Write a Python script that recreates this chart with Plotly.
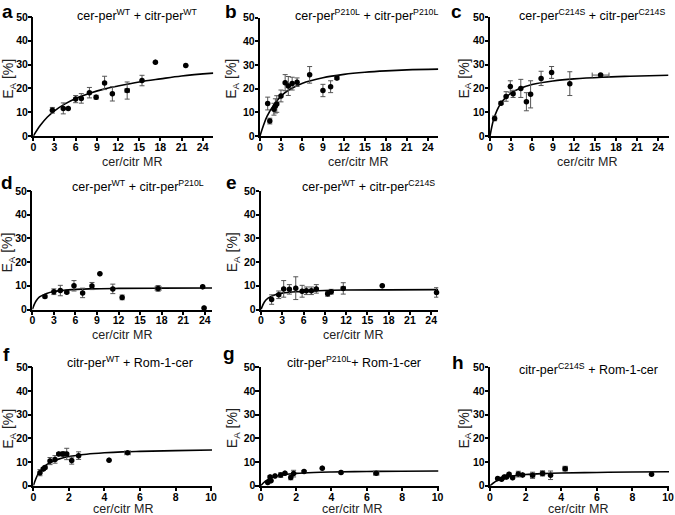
import plotly.graph_objects as go

W, H = 675, 515

# ---------------- data ----------------
# panel a: cer-per WT + citr-per WT
a_x = [2.7, 4.25, 4.95, 6.0, 6.8, 7.95, 8.9, 10.1, 11.2, 13.3, 15.4, 17.3, 21.6]
a_y = [10.8, 11.6, 11.6, 15.5, 15.8, 18.2, 16.3, 22.3, 17.7, 19.1, 23.3, 31.0, 29.6]
a_err = [1.2, 2.3, None, 1.5, 2.0, 2.2, 0.8, 2.8, 3.0, 3.6, 2.2, None, None]
a_xerr = [None, None, None, None, None, None, None, None, None, 0.3, None, None, None]
a_fit_x = [0, 1, 2, 3, 4.5, 6, 8, 10, 12, 15, 18, 21, 25.5]
a_fit_y = [0, 4.5, 8.0, 10.6, 13.5, 15.8, 18.0, 19.7, 21.0, 22.7, 24.0, 25.2, 26.4]

# panel b: P210L + P210L
b_x = [1.1, 1.4, 2.0, 2.2, 2.4, 3.0, 3.6, 4.05, 4.6, 5.3, 7.1, 9.0, 10.1, 11.0]
b_y = [13.7, 6.3, 11.3, 12.7, 13.5, 16.9, 22.5, 21.1, 22.1, 22.7, 25.8, 19.2, 20.8, 24.5]
b_err = [2.7, 1.2, 2.5, 3.0, 3.5, 2.5, 3.4, 4.0, 2.7, 1.8, 3.5, 2.6, 2.5, 0.7]
b_xerr = [None] * 14
b_fit_x = [0, 0.5, 1, 2, 3, 4, 6, 9, 12, 15, 18, 21, 25.5]
b_fit_y = [0, 4.5, 8.3, 13.2, 16.8, 19.2, 22.2, 24.6, 26.0, 26.9, 27.5, 27.9, 28.2]

# panel c: C214S + C214S
c_x = [0.66, 1.57, 2.3, 2.9, 3.3, 4.4, 5.2, 5.8, 7.3, 8.8, 11.4, 15.8]
c_y = [7.4, 13.8, 16.6, 20.8, 17.7, 20.0, 14.4, 17.5, 24.2, 26.7, 22.0, 25.6]
c_err = [1.0, 0.6, 2.0, 2.4, 1.5, 3.8, 3.8, 5.7, 3.0, 2.5, 5.0, None]
c_xerr = [None] * 11 + [1.2]
c_fit_x = [0, 0.5, 1, 1.5, 2, 3, 4, 6, 9, 12, 16, 20, 25.5]
c_fit_y = [0, 6.8, 10.8, 13.5, 15.4, 18.0, 19.6, 21.6, 23.1, 24.0, 24.7, 25.1, 25.5]

# panel d: cer-per WT + citr-per P210L
d_x = [1.76, 3.0, 3.9, 4.8, 5.8, 7.0, 8.3, 9.4, 11.2, 12.5, 17.5, 23.7, 23.9]
d_y = [5.5, 7.5, 8.0, 7.3, 10.0, 7.0, 9.9, 15.1, 8.7, 5.1, 8.9, 9.6, 0.6]
d_err = [0.6, 1.2, 2.2, 0.5, 2.2, 2.0, 1.5, None, 2.0, 1.0, 1.2, None, None]
d_xerr = [None] * 10 + [0.4, None, None]
d_fit_x = [0, 0.5, 1, 2, 3, 5, 8, 12, 18, 25]
d_fit_y = [0, 3.5, 5.3, 6.8, 7.6, 8.3, 8.7, 8.9, 9.0, 9.1]

# panel e: cer-per WT + citr-per C214S
e_x = [1.5, 2.5, 3.2, 4.0, 4.9, 5.8, 6.4, 7.1, 7.8, 9.4, 9.9, 11.6, 17.1, 24.75]
e_y = [4.2, 6.2, 8.7, 8.5, 9.0, 7.7, 7.9, 7.9, 8.7, 6.6, 7.5, 8.9, 10.0, 7.2]
e_err = [2.0, 1.6, 3.5, 2.0, 4.8, 2.5, 1.6, 1.6, 1.8, 1.0, 1.0, 2.4, None, 2.0]
e_xerr = [None] * 11 + [0.3, None, None]
e_fit_x = [0, 0.5, 1, 2, 3, 5, 8, 12, 18, 25]
e_fit_y = [0, 3.3, 4.8, 6.2, 6.9, 7.5, 7.9, 8.2, 8.3, 8.4]

# panel f: citr-per WT + Rom-1-cer
f_x = [0.375, 0.56, 0.66, 0.94, 1.22, 1.43, 1.67, 1.88, 2.16, 2.55, 4.26, 5.3]
f_y = [5.5, 7.0, 7.7, 10.4, 11.1, 13.4, 13.4, 13.4, 10.6, 12.7, 10.8, 13.9]
f_err = [1.3, 0.6, 0.6, 1.5, 1.6, 0.5, 1.0, 2.4, 1.5, 1.6, None, 0.5]
f_xerr = [None] * 11 + [0.15]
f_fit_x = [0, 0.25, 0.5, 1, 1.5, 2, 3, 4, 5, 6, 8, 10.05]
f_fit_y = [0, 4.7, 7.3, 10.0, 11.4, 12.3, 13.3, 13.9, 14.3, 14.5, 14.8, 15.1]

# panel g: citr-per P210L + Rom-1-cer
g_x = [0.4, 0.53, 0.58, 0.81, 1.13, 1.37, 1.7, 1.86, 2.45, 3.48, 4.54, 6.53]
g_y = [1.3, 3.7, 2.1, 4.1, 4.5, 5.3, 3.5, 5.1, 6.0, 7.4, 5.6, 5.3]
g_err = [None, 0.5, None, None, 1.0, None, 1.0, 1.4, 0.4, None, 0.5, 0.8]
g_xerr = [None] * 11 + [0.15]
g_fit_x = [0, 0.25, 0.5, 1, 1.5, 2, 3, 4, 6, 8, 10.05]
g_fit_y = [0, 1.8, 3.0, 4.2, 4.8, 5.2, 5.6, 5.8, 6.0, 6.1, 6.2]

# panel h: citr-per C214S + Rom-1-cer
h_x = [0.43, 0.65, 0.8, 0.93, 1.07, 1.27, 1.59, 1.83, 2.39, 2.95, 3.4, 4.22, 9.07]
h_y = [3.0, 2.7, 3.7, 3.7, 4.8, 3.4, 4.9, 4.5, 4.4, 5.2, 4.4, 7.2, 4.8]
h_err = [None, None, None, None, 0.5, None, 1.2, None, 1.3, 1.1, 1.8, 1.0, None]
h_xerr = [None] * 8 + [0.12, 0.12, None, 0.12, None]
h_fit_x = [0, 0.5, 1, 1.5, 2, 3, 4, 6, 8, 10.05]
h_fit_y = [0, 2.6, 3.7, 4.3, 4.7, 5.1, 5.35, 5.6, 5.8, 5.9]

x_ticks_long = [0, 3, 6, 9, 12, 15, 18, 21, 24]
x_ticks_short = [0, 2, 4, 6, 8, 10]
y_ticks = [0, 10, 20, 30, 40, 50]

panel_letters = ["a", "b", "c", "d", "e", "f", "g", "h"]
panel_titles = [
    "cer-per<sup>WT</sup> + citr-per<sup>WT</sup>",
    "cer-per<sup>P210L</sup> + citr-per<sup>P210L</sup>",
    "cer-per<sup>C214S</sup> + citr-per<sup>C214S</sup>",
    "cer-per<sup>WT</sup> + citr-per<sup>P210L</sup>",
    "cer-per<sup>WT</sup> + citr-per<sup>C214S</sup>",
    "citr-per<sup>WT</sup> + Rom-1-cer",
    "citr-per<sup>P210L</sup>+ Rom-1-cer",
    "citr-per<sup>C214S</sup> + Rom-1-cer",
]
x_title = "cer/citr MR"
y_title = "E<sub>A</sub> [%]"

data = [
    (a_x, a_y, a_err, a_xerr, a_fit_x, a_fit_y),
    (b_x, b_y, b_err, b_xerr, b_fit_x, b_fit_y),
    (c_x, c_y, c_err, c_xerr, c_fit_x, c_fit_y),
    (d_x, d_y, d_err, d_xerr, d_fit_x, d_fit_y),
    (e_x, e_y, e_err, e_xerr, e_fit_x, e_fit_y),
    (f_x, f_y, f_err, f_xerr, f_fit_x, f_fit_y),
    (g_x, g_y, g_err, g_xerr, g_fit_x, g_fit_y),
    (h_x, h_y, h_err, h_xerr, h_fit_x, h_fit_y),
]

# ---------------- layout geometry (pixels) ----------------
# (x_left, x_right, y_top, y_bottom, x_max)
geom = [
    (33.3, 213.3, 17, 136, 25.5),
    (260, 438.3, 17.5, 136, 25.5),
    (490, 668.5, 17, 136, 25.5),
    (32.3, 212, 191, 309.5, 25),
    (261, 438.3, 191, 309.5, 25),
    (33.3, 212, 367.3, 485.7, 10.05),
    (260.7, 438.5, 367.3, 485.7, 10.05),
    (490, 669, 367.3, 485.7, 10.05),
]
title_pos = [(137, 15), (366, 15), (592, 15), (138, 186), (368, 186), (130, 362), (354, 362), (588, 369)]
letter_pos = [(7, 12), (231, 12), (457, 12), (7, 182), (231, 182), (6, 354), (229, 353), (458, 362)]
xtitle_pos = [(132, 162), (358, 162), (587, 162), (122, 335), (353, 335), (123, 509), (352, 509), (578, 509)]
ytitle_off = [25, 28, 26, 24, 28, 25, 28, 26]

FONT = "Liberation Sans, Arial, sans-serif"

def px_x(px):
    return px / W

def px_y(py):
    return 1 - py / H

fig = go.Figure()
annotations = []
layout = {}

for i, ((x, y, ye, xe, fx, fy), (xl, xr, yt, yb, xmax)) in enumerate(zip(data, geom)):
    n = i + 1
    xa = "x" if n == 1 else f"x{n}"
    ya = "y" if n == 1 else f"y{n}"
    fig.add_trace(go.Scatter(
        x=fx, y=fy, mode="lines", line=dict(color="black", width=1.6, shape="spline", smoothing=1.0),
        xaxis=xa, yaxis=ya, showlegend=False, hoverinfo="skip", cliponaxis=False))
    fig.add_trace(go.Scatter(
        x=x, y=y, mode="markers",
        marker=dict(color="black", size=5.5),
        error_y=dict(type="data", array=ye, color="#555555", thickness=1, width=2.5, visible=True),
        error_x=dict(type="data", array=xe, color="#555555", thickness=1, width=2.5, visible=True),
        xaxis=xa, yaxis=ya, showlegend=False, cliponaxis=False))

    ticks = x_ticks_long if xmax > 11 else x_ticks_short
    common = dict(showline=True, linecolor="black", linewidth=1.5, ticks="outside", ticklen=3.5,
                  tickwidth=1.5, tickcolor="black", showgrid=False, zeroline=False, automargin=False,
                  tickfont=dict(family=FONT, size=10.5, color="black", weight="bold"))
    layout["xaxis" if n == 1 else f"xaxis{n}"] = dict(
        domain=[px_x(xl), px_x(xr)], range=[0, xmax], tickmode="array", tickvals=ticks,
        anchor=ya, ticklabelstandoff=-3, **common)
    layout["yaxis" if n == 1 else f"yaxis{n}"] = dict(
        domain=[px_y(yb), px_y(yt)], range=[0, 50], tickmode="array", tickvals=y_ticks,
        anchor=xa, ticklabelstandoff=-2, **common)

    tx, ty = title_pos[i]
    annotations.append(dict(text=panel_titles[i], x=px_x(tx), y=px_y(ty), xref="paper", yref="paper",
                            showarrow=False, xanchor="center", yanchor="middle",
                            font=dict(family=FONT, size=12.5, color="black")))
    lx, ly = letter_pos[i]
    annotations.append(dict(text="<b>%s</b>" % panel_letters[i], x=px_x(lx), y=px_y(ly), xref="paper",
                            yref="paper", showarrow=False, xanchor="center", yanchor="middle",
                            font=dict(family=FONT, size=19, color="black")))
    xtx, xty = xtitle_pos[i]
    annotations.append(dict(text=x_title, x=px_x(xtx), y=px_y(xty), xref="paper", yref="paper",
                            showarrow=False, xanchor="center", yanchor="middle",
                            font=dict(family=FONT, size=12.5, color="#222222")))
    annotations.append(dict(text=y_title, x=px_x(xl - ytitle_off[i]), y=px_y((yt + yb) / 2 + 2),
                            xref="paper", yref="paper", showarrow=False, textangle=-90,
                            xanchor="center", yanchor="middle",
                            font=dict(family=FONT, size=14, color="#222222")))

fig.update_layout(
    width=W, height=H, margin=dict(l=0, r=0, t=0, b=0, autoexpand=False),
    paper_bgcolor="white", plot_bgcolor="white",
    annotations=annotations, **layout)

fig.write_html("out.html", config={"displayModeBar": False},
               post_script="document.body.style.margin='0';document.body.style.padding='0';")
